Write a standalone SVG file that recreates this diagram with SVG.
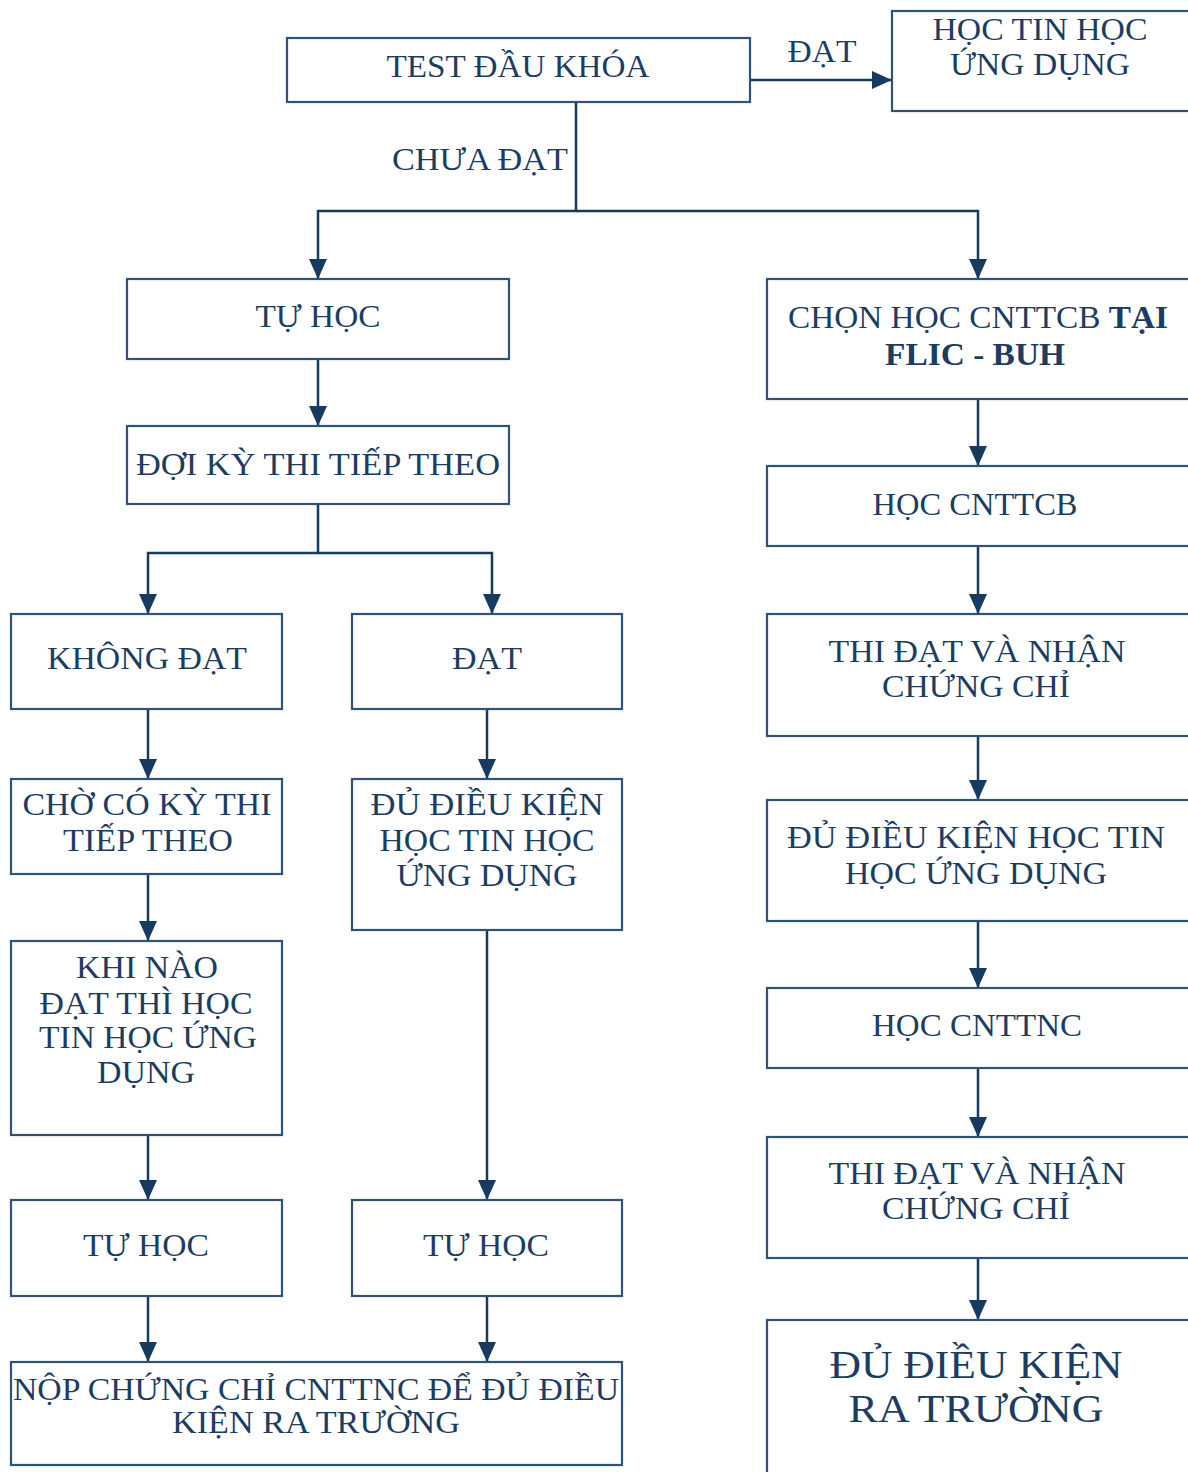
<svg xmlns="http://www.w3.org/2000/svg" width="1188" height="1472" viewBox="0 0 1188 1472">
<defs>
<marker id="arr" markerUnits="userSpaceOnUse" markerWidth="20" markerHeight="18" viewBox="0 0 20 18" refX="20" refY="9" orient="auto">
<path d="M0,0 L20,9 L0,18 z" fill="#173a60"/>
</marker>
<style>
.box{fill:#fff;stroke:#2e5278;stroke-width:2.2}
.t{font-family:"Liberation Serif","Times New Roman",serif;font-size:31px;fill:#1c3d63;text-anchor:middle}
.b{font-weight:bold}
.big{font-size:39px}
.c{fill:none;stroke:#173a60;stroke-width:2.5}
</style>
</defs>
<rect width="1188" height="1472" fill="#fff"/>
<g id="connectors">
<path class="c" d="M750,80 H892" marker-end="url(#arr)"/>
<path class="c" d="M576,102 V211 H318 V279" marker-end="url(#arr)"/>
<path class="c" d="M576,211 H978 V279" marker-end="url(#arr)"/>
<path class="c" d="M318,359 V426" marker-end="url(#arr)"/>
<path class="c" d="M318,504 V553 H148 V614" marker-end="url(#arr)"/>
<path class="c" d="M318,553 H492 V614" marker-end="url(#arr)"/>
<path class="c" d="M148,709 V779" marker-end="url(#arr)"/>
<path class="c" d="M487,709 V779" marker-end="url(#arr)"/>
<path class="c" d="M148,874 V941" marker-end="url(#arr)"/>
<path class="c" d="M487,930 V1200" marker-end="url(#arr)"/>
<path class="c" d="M148,1135 V1200" marker-end="url(#arr)"/>
<path class="c" d="M148,1296 V1362" marker-end="url(#arr)"/>
<path class="c" d="M487,1296 V1362" marker-end="url(#arr)"/>
<path class="c" d="M978,399 V466" marker-end="url(#arr)"/>
<path class="c" d="M978,546 V614" marker-end="url(#arr)"/>
<path class="c" d="M978,736 V800" marker-end="url(#arr)"/>
<path class="c" d="M978,921 V988" marker-end="url(#arr)"/>
<path class="c" d="M978,1068 V1137" marker-end="url(#arr)"/>
<path class="c" d="M978,1258 V1320" marker-end="url(#arr)"/>
<text class="t" x="822" y="62" textLength="69" lengthAdjust="spacingAndGlyphs">ĐẠT</text>
<text class="t" x="480" y="170" textLength="176" lengthAdjust="spacingAndGlyphs">CHƯA ĐẠT</text>
</g>
<g id="test-dau-khoa">
<rect class="box" x="287" y="38" width="463" height="64"/>
<text class="t" x="518" y="77" textLength="263" lengthAdjust="spacingAndGlyphs">TEST ĐẦU KHÓA</text>
</g>
<g id="hoc-tin-hoc-ung-dung-top">
<rect class="box" x="892" y="11" width="300" height="100"/>
<text class="t" x="1040" y="40" textLength="215" lengthAdjust="spacingAndGlyphs">HỌC TIN HỌC</text>
<text class="t" x="1040" y="75" textLength="180" lengthAdjust="spacingAndGlyphs">ỨNG DỤNG</text>
</g>
<g id="tu-hoc-top">
<rect class="box" x="127" y="279" width="382" height="80"/>
<text class="t" x="318" y="327" textLength="125" lengthAdjust="spacingAndGlyphs">TỰ HỌC</text>
</g>
<g id="doi-ky-thi">
<rect class="box" x="127" y="426" width="382" height="78"/>
<text class="t" x="318" y="475" textLength="364" lengthAdjust="spacingAndGlyphs">ĐỢI KỲ THI TIẾP THEO</text>
</g>
<g id="chon-hoc-cnttcb">
<rect class="box" x="767" y="279" width="425" height="120"/>
<text class="t" x="978" y="328" textLength="380" lengthAdjust="spacingAndGlyphs">CHỌN HỌC CNTTCB <tspan class="b">TẠI</tspan></text>
<text class="t b" x="975" y="365" textLength="180" lengthAdjust="spacingAndGlyphs">FLIC - BUH</text>
</g>
<g id="hoc-cnttcb">
<rect class="box" x="767" y="466" width="425" height="80"/>
<text class="t" x="975" y="515" textLength="205" lengthAdjust="spacingAndGlyphs">HỌC CNTTCB</text>
</g>
<g id="khong-dat">
<rect class="box" x="11" y="614" width="271" height="95"/>
<text class="t" x="147" y="669" textLength="200" lengthAdjust="spacingAndGlyphs">KHÔNG ĐẠT</text>
</g>
<g id="dat">
<rect class="box" x="352" y="614" width="270" height="95"/>
<text class="t" x="487" y="669" textLength="70" lengthAdjust="spacingAndGlyphs">ĐẠT</text>
</g>
<g id="thi-dat-1">
<rect class="box" x="767" y="614" width="425" height="122"/>
<text class="t" x="977" y="662" textLength="297" lengthAdjust="spacingAndGlyphs">THI ĐẠT VÀ NHẬN</text>
<text class="t" x="976" y="697" textLength="188" lengthAdjust="spacingAndGlyphs">CHỨNG CHỈ</text>
</g>
<g id="cho-co-ky-thi">
<rect class="box" x="11" y="779" width="271" height="95"/>
<text class="t" x="147" y="815" textLength="249" lengthAdjust="spacingAndGlyphs">CHỜ CÓ KỲ THI</text>
<text class="t" x="148" y="851" textLength="170" lengthAdjust="spacingAndGlyphs">TIẾP THEO</text>
</g>
<g id="du-dieu-kien-mid">
<rect class="box" x="352" y="779" width="270" height="151"/>
<text class="t" x="487" y="815" textLength="233" lengthAdjust="spacingAndGlyphs">ĐỦ ĐIỀU KIỆN</text>
<text class="t" x="487" y="851" textLength="215" lengthAdjust="spacingAndGlyphs">HỌC TIN HỌC</text>
<text class="t" x="487" y="886" textLength="181" lengthAdjust="spacingAndGlyphs">ỨNG DỤNG</text>
</g>
<g id="du-dieu-kien-right">
<rect class="box" x="767" y="800" width="425" height="121"/>
<text class="t" x="976" y="848" textLength="378" lengthAdjust="spacingAndGlyphs">ĐỦ ĐIỀU KIỆN HỌC TIN</text>
<text class="t" x="976" y="884" textLength="262" lengthAdjust="spacingAndGlyphs">HỌC ỨNG DỤNG</text>
</g>
<g id="khi-nao-dat">
<rect class="box" x="11" y="941" width="271" height="194"/>
<text class="t" x="147" y="978" textLength="142" lengthAdjust="spacingAndGlyphs">KHI NÀO</text>
<text class="t" x="146" y="1014" textLength="213" lengthAdjust="spacingAndGlyphs">ĐẠT THÌ HỌC</text>
<text class="t" x="148" y="1048" textLength="218" lengthAdjust="spacingAndGlyphs">TIN HỌC ỨNG</text>
<text class="t" x="146" y="1083" textLength="98" lengthAdjust="spacingAndGlyphs">DỤNG</text>
</g>
<g id="hoc-cnttnc">
<rect class="box" x="767" y="988" width="425" height="80"/>
<text class="t" x="977" y="1036" textLength="210" lengthAdjust="spacingAndGlyphs">HỌC CNTTNC</text>
</g>
<g id="thi-dat-2">
<rect class="box" x="767" y="1137" width="425" height="121"/>
<text class="t" x="977" y="1184" textLength="297" lengthAdjust="spacingAndGlyphs">THI ĐẠT VÀ NHẬN</text>
<text class="t" x="976" y="1219" textLength="188" lengthAdjust="spacingAndGlyphs">CHỨNG CHỈ</text>
</g>
<g id="tu-hoc-left">
<rect class="box" x="11" y="1200" width="271" height="96"/>
<text class="t" x="146" y="1256" textLength="126" lengthAdjust="spacingAndGlyphs">TỰ HỌC</text>
</g>
<g id="tu-hoc-mid">
<rect class="box" x="352" y="1200" width="270" height="96"/>
<text class="t" x="486" y="1256" textLength="126" lengthAdjust="spacingAndGlyphs">TỰ HỌC</text>
</g>
<g id="nop-chung-chi">
<rect class="box" x="11" y="1362" width="611" height="103"/>
<text class="t" x="316" y="1400" textLength="606" lengthAdjust="spacingAndGlyphs">NỘP CHỨNG CHỈ CNTTNC ĐỂ ĐỦ ĐIỀU</text>
<text class="t" x="316" y="1433" textLength="288" lengthAdjust="spacingAndGlyphs">KIỆN RA  TRƯỜNG</text>
</g>
<g id="du-dieu-kien-ra-truong">
<rect class="box" x="767" y="1320" width="425" height="160"/>
<text class="t big" x="976" y="1378" textLength="293" lengthAdjust="spacingAndGlyphs">ĐỦ ĐIỀU KIỆN</text>
<text class="t big" x="976" y="1422" textLength="255" lengthAdjust="spacingAndGlyphs">RA TRƯỜNG</text>
</g>
</svg>
